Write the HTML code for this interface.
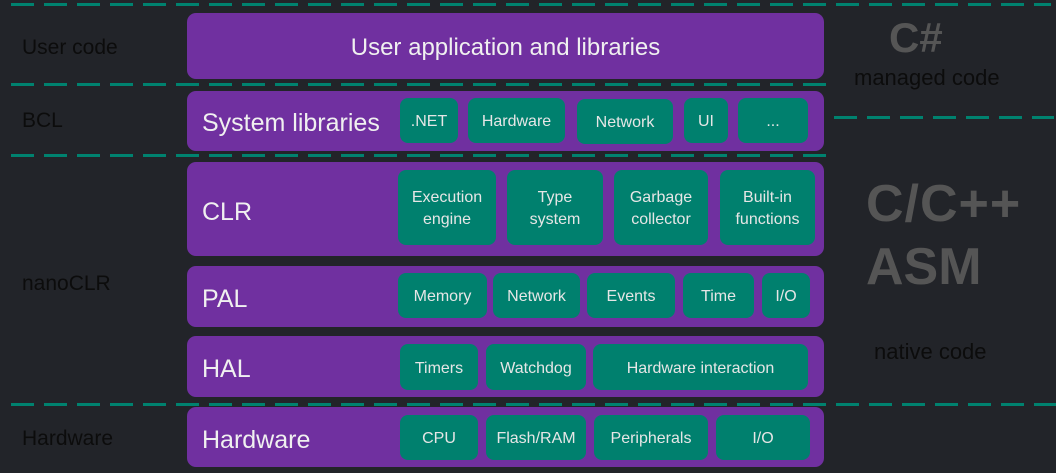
<!DOCTYPE html>
<html><head><style>
body{margin:0;width:1056px;height:473px;background:#222429;position:relative;overflow:hidden;font-family:"Liberation Sans",sans-serif}
.d{position:absolute;height:3px;background:repeating-linear-gradient(90deg,#00826f 0 23px,transparent 23px 33px)}
.b{position:absolute;background:#7030a0;border-radius:9px;left:187px;width:637px}
.c{position:absolute;background:#00806e;border-radius:8px;color:#e6e6e6;font-size:16px;display:flex;align-items:center;justify-content:center;text-align:center;line-height:22px;padding-top:3px;box-sizing:border-box}
.t{position:absolute;color:#f0f0f0;font-size:24px}
.l{position:absolute;color:#0c0c0c;font-size:21px;left:22px}
.g{position:absolute;color:#555;font-weight:bold}
</style></head><body>
<div class="d" style="left:11px;top:3px;width:1040px"></div>
<div class="d" style="left:11px;top:83px;width:825px"></div>
<div class="d" style="left:834px;top:116px;width:220px"></div>
<div class="d" style="left:11px;top:154px;width:825px"></div>
<div class="d" style="left:11px;top:403px;width:1045px"></div>

<div class="l" style="top:36px">User code</div>
<div class="l" style="top:109px">BCL</div>
<div class="l" style="top:272px">nanoCLR</div>
<div class="l" style="top:427px">Hardware</div>

<div class="b" style="top:13px;height:66px"></div>
<div class="t" style="left:187px;width:637px;top:34px;text-align:center">User application and libraries</div>
<div class="b" style="top:91px;height:60px"></div>
<div class="t" style="left:202px;top:109px;font-size:25px">System libraries</div>
<div class="c" style="left:400px;top:98px;width:58px;height:45px">.NET</div>
<div class="c" style="left:468px;top:98px;width:97px;height:45px">Hardware</div>
<div class="c" style="left:577px;top:99px;width:96px;height:45px">Network</div>
<div class="c" style="left:684px;top:98px;width:44px;height:45px">UI</div>
<div class="c" style="left:738px;top:98px;width:70px;height:45px">...</div>

<div class="b" style="top:162px;height:94px"></div>
<div class="t" style="left:202px;top:198px;font-size:25px">CLR</div>
<div class="c" style="left:398px;top:170px;width:98px;height:75px">Execution<br>engine</div>
<div class="c" style="left:507px;top:170px;width:96px;height:75px">Type<br>system</div>
<div class="c" style="left:614px;top:170px;width:94px;height:75px">Garbage<br>collector</div>
<div class="c" style="left:720px;top:170px;width:95px;height:75px">Built-in<br>functions</div>

<div class="b" style="top:266px;height:61px"></div>
<div class="t" style="left:202px;top:285px;font-size:25px">PAL</div>
<div class="c" style="left:398px;top:273px;width:89px;height:45px">Memory</div>
<div class="c" style="left:493px;top:273px;width:87px;height:45px">Network</div>
<div class="c" style="left:587px;top:273px;width:88px;height:45px">Events</div>
<div class="c" style="left:683px;top:273px;width:71px;height:45px">Time</div>
<div class="c" style="left:762px;top:273px;width:48px;height:45px">I/O</div>

<div class="b" style="top:336px;height:61px"></div>
<div class="t" style="left:202px;top:355px;font-size:25px">HAL</div>
<div class="c" style="left:400px;top:344px;width:78px;height:46px">Timers</div>
<div class="c" style="left:486px;top:344px;width:100px;height:46px">Watchdog</div>
<div class="c" style="left:593px;top:344px;width:215px;height:46px">Hardware interaction</div>

<div class="b" style="top:407px;height:60px"></div>
<div class="t" style="left:202px;top:426px;font-size:25px">Hardware</div>
<div class="c" style="left:400px;top:415px;width:78px;height:45px">CPU</div>
<div class="c" style="left:486px;top:415px;width:100px;height:45px">Flash/RAM</div>
<div class="c" style="left:594px;top:415px;width:114px;height:45px">Peripherals</div>
<div class="c" style="left:716px;top:415px;width:94px;height:45px">I/O</div>

<div class="g" style="left:889px;top:14px;font-size:42px">C#</div>
<div class="l" style="left:854px;top:65px;font-size:22px">managed code</div>
<div class="g" style="left:866px;top:174px;font-size:52px;letter-spacing:1px">C/C++</div>
<div class="g" style="left:866px;top:237px;font-size:52px">ASM</div>
<div class="l" style="left:874px;top:339px;font-size:22px">native code</div>
</body></html>
